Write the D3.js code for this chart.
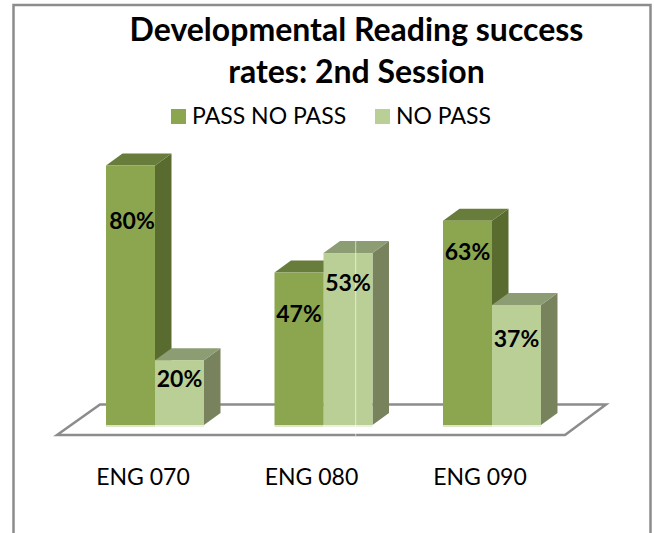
<!DOCTYPE html>
<html><head><meta charset="utf-8">
<script src="https://cdn.jsdelivr.net/npm/d3@7"></script>
<style>html,body{margin:0;padding:0;background:#fff}svg{display:block}text{font-family:Lato,"Open Sans",sans-serif;fill:#000}</style>
</head><body><div id="c"></div>
<script>
const categories = ["ENG 070","ENG 080","ENG 090"];
const seriesNames = ["PASS NO PASS","NO PASS"];
const passValues = [80,47,63];
const noPassValues = [20,53,37];
const titleLines = ["Developmental Reading success","rates: 2nd Session"];
const frontColors = ["#8ba64f","#b9cf96"];
const sideColors = ["#5a6b30","#78835d"];
const topColors = ["#687d3b","#8d9d73"];

const W=654,H=533,dx=16.5,dy=-12;
const svg=d3.select("#c").append("svg").attr("width",W).attr("height",H);
svg.append("path").attr("d",`M13.5,533V5H650.5V533`).attr("fill","none").attr("stroke","#8c8c8c").attr("stroke-width",2.5);

const y=d3.scaleLinear().domain([0,80]).range([425,165.5]);
const x=d3.scaleBand().domain(categories).range([70.75,576.25]);
const xs=d3.scaleBand().domain(d3.range(2)).range([0,98]);

// floor
const fl=[[57,435],[100,404.5],[606,404.5],[565,435]];
svg.append("path").attr("d",d3.line()(fl)+"Z").attr("fill","#fff").attr("stroke","#8c8c8c").attr("stroke-width",2.5);

const bars=[];
categories.forEach((c,i)=>{
  [passValues[i],noPassValues[i]].forEach((v,s)=>bars.push({c,s,v,i}));
});
const line=d3.line();
const g=svg.selectAll("g.bar").data(bars).join("g").attr("class","bar");
g.each(function(d){
  const sel=d3.select(this);
  const x0=x(d.c)+x.bandwidth()/2-49+xs(d.s), x1=x0+xs.bandwidth(), yt=y(d.v), yb=y(0);
  sel.append("path").attr("d",line([[x1,yt],[x1+dx,yt+dy],[x1+dx,yb+dy],[x1,yb]])+"Z").attr("fill",sideColors[d.s]);
  sel.append("path").attr("d",line([[x0,yt],[x0+dx,yt+dy],[x1+dx,yt+dy],[x1,yt]])+"Z").attr("fill",topColors[d.s]);
  sel.append("rect").attr("x",x0).attr("y",yt).attr("width",x1-x0).attr("height",yb-yt).attr("fill",frontColors[d.s]);
  sel.append("rect").attr("x",x0).attr("y",yb).attr("width",x1-x0).attr("height",2).attr("fill",d3.interpolateRgb(frontColors[d.s],"#fff")(0.7));
});

// faint vertical hairline crossing the ENG 080 no-pass bar in the source image
svg.append("line").attr("x1",355.7).attr("x2",355.7).attr("y1",241).attr("y2",436).attr("stroke","#fff").attr("stroke-opacity",0.6).attr("stroke-width",1);

// label baseline: drop below each bar top, per series and category
const labelDrop=[[63.5,49,39.4],[27,38,41.7]];
svg.selectAll("text.val").data(bars).join("text").attr("class","val")
  .attr("x",d=>x(d.c)+x.bandwidth()/2-49+xs(d.s)+xs.bandwidth()/2+(d.v===80?1.5:0))
  .attr("y",d=>y(d.v)+labelDrop[d.s][d.i])
  .attr("text-anchor","middle").attr("font-size",23).attr("font-weight",700)
  .text(d=>d.v+"%");

// category labels
svg.selectAll("text.cat").data(categories).join("text").attr("class","cat")
  .attr("x",d=>x(d)+x.bandwidth()/2-12).attr("y",485).attr("text-anchor","middle").attr("font-size",23).text(d=>d);

// title
svg.selectAll("text.t").data(titleLines).join("text").attr("class","t")
  .attr("x",356.5).attr("y",(d,i)=>41+i*42).attr("text-anchor","middle").attr("font-size",32).attr("font-weight",700).text(d=>d);

// legend
const lx=[171,375], tx=[192,396];
seriesNames.forEach((n,i)=>{
  svg.append("rect").attr("x",lx[i]).attr("y",109).attr("width",15).attr("height",15).attr("fill",frontColors[i]);
  svg.append("text").attr("x",tx[i]).attr("y",124).attr("font-size",23).text(n);
});
</script></body></html>
